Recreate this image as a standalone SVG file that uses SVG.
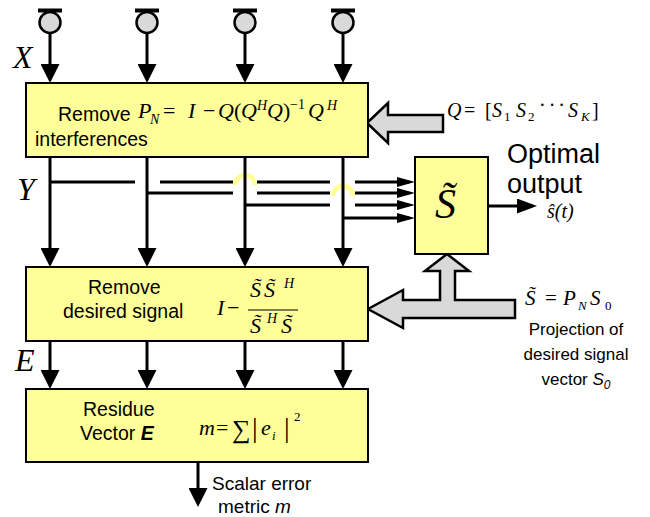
<svg xmlns="http://www.w3.org/2000/svg" width="650" height="517" viewBox="0 0 650 517">
<style>
.box{fill:#ffff99;stroke:#000;stroke-width:2}
.ln{stroke:#000;stroke-width:3;fill:none}
.gar{fill:#d9d9d9;stroke:#000;stroke-width:2.5;stroke-linejoin:miter}
.hop{fill:none;stroke:#ffff99;stroke-width:5}
.s{font-family:"Liberation Sans",Arial,sans-serif;fill:#000}
.m{font-family:"Liberation Serif","Times New Roman",serif;font-style:italic;fill:#000}
.u{font-style:normal}
.big{font-family:"Liberation Serif","Times New Roman",serif;font-style:italic;font-size:32px}
</style>
<defs>
<marker id="ah" markerUnits="userSpaceOnUse" markerWidth="19" markerHeight="19" refX="11" refY="9.5" orient="auto"><path d="M0,0 L19,9.5 L0,19 z" fill="#000"/></marker>
<marker id="ahs" markerUnits="userSpaceOnUse" markerWidth="18" markerHeight="10" refX="12" refY="5" orient="auto"><path d="M0,0 L18,5 L0,10 z" fill="#000"/></marker>
<marker id="aho" markerUnits="userSpaceOnUse" markerWidth="20" markerHeight="15" refX="13" refY="7.5" orient="auto"><path d="M0,0 L20,7.5 L0,15 z" fill="#000"/></marker>
</defs>

<g id="connectors">
<path class="hop" d="M235,185 A10,10 0 0 1 255,185"/>
<path class="hop" d="M333,196 A10,10 0 0 1 353,196"/>
<line class="ln" x1="50" y1="33" x2="50" y2="75" marker-end="url(#ah)"/>
<line class="ln" x1="147" y1="33" x2="147" y2="75" marker-end="url(#ah)"/>
<line class="ln" x1="245" y1="33" x2="245" y2="75" marker-end="url(#ah)"/>
<line class="ln" x1="343" y1="33" x2="343" y2="75" marker-end="url(#ah)"/>
<line class="ln" x1="50" y1="157" x2="50" y2="259" marker-end="url(#ah)"/>
<line class="ln" x1="147" y1="157" x2="147" y2="259" marker-end="url(#ah)"/>
<line class="ln" x1="245" y1="157" x2="245" y2="259" marker-end="url(#ah)"/>
<line class="ln" x1="343" y1="157" x2="343" y2="259" marker-end="url(#ah)"/>
<line class="ln" x1="50" y1="341" x2="50" y2="381" marker-end="url(#ah)"/>
<line class="ln" x1="147" y1="341" x2="147" y2="381" marker-end="url(#ah)"/>
<line class="ln" x1="245" y1="341" x2="245" y2="381" marker-end="url(#ah)"/>
<line class="ln" x1="343" y1="341" x2="343" y2="381" marker-end="url(#ah)"/>
<line class="ln" x1="198" y1="462" x2="198" y2="499" marker-end="url(#ah)"/>
<path class="ln" d="M50,182 H135 M160,182 H233 M257,182 H330"/>
<line class="ln" x1="355" y1="182" x2="409" y2="182" marker-end="url(#ahs)"/>
<path class="ln" d="M147,193 H233 M257,193 H330"/>
<line class="ln" x1="355" y1="193" x2="409" y2="193" marker-end="url(#ahs)"/>
<path class="ln" d="M245,205 H330"/>
<line class="ln" x1="355" y1="205" x2="409" y2="205" marker-end="url(#ahs)"/>
<line class="ln" x1="343" y1="218" x2="409" y2="218" marker-end="url(#ahs)"/>
<line class="ln" x1="488" y1="206" x2="530" y2="206" marker-end="url(#aho)"/>
<polygon id="q-arrow" class="gar" points="367,123 388,103 388,115 443,115 443,132 388,132 388,143"/>
<polygon id="s-arrow" class="gar" points="368,309 403,290 403,300 440,300 440,271 425,271 447,254 469,271 455,271 455,300 515,300 515,318 403,318 403,328"/>
</g>

<g id="in1"><circle cx="50" cy="22.5" r="10.5" fill="#d9d9d9" stroke="#000" stroke-width="2.5"/><line x1="38" y1="10.5" x2="62" y2="10.5" stroke="#000" stroke-width="4"/></g>
<g id="in2"><circle cx="147" cy="22.5" r="10.5" fill="#d9d9d9" stroke="#000" stroke-width="2.5"/><line x1="135" y1="10.5" x2="159" y2="10.5" stroke="#000" stroke-width="4"/></g>
<g id="in3"><circle cx="245" cy="22.5" r="10.5" fill="#d9d9d9" stroke="#000" stroke-width="2.5"/><line x1="233" y1="10.5" x2="257" y2="10.5" stroke="#000" stroke-width="4"/></g>
<g id="in4"><circle cx="343" cy="22.5" r="10.5" fill="#d9d9d9" stroke="#000" stroke-width="2.5"/><line x1="331" y1="10.5" x2="355" y2="10.5" stroke="#000" stroke-width="4"/></g>

<text class="big" x="13" y="68">X</text>
<text class="big" x="17" y="200">Y</text>
<text class="big" x="15" y="371">E</text>

<g id="box1">
<rect class="box" x="26" y="83" width="342" height="74"/>
<text class="s" x="58" y="121" font-size="19.5">Remove</text>
<text class="s" x="35" y="146" font-size="19.5">interferences</text>
<text class="m" font-size="22" y="118"><tspan x="138">P</tspan><tspan x="150" y="124" font-size="14">N</tspan><tspan class="u" x="163" y="118">=</tspan><tspan x="188">I</tspan><tspan class="u" x="203">−</tspan><tspan x="218">Q</tspan><tspan class="u" x="234">(</tspan><tspan x="241">Q</tspan><tspan x="257" y="110" font-size="14">H</tspan><tspan x="267" y="118">Q</tspan><tspan class="u" x="283">)</tspan><tspan class="u" x="290" y="109" font-size="14">−1</tspan><tspan x="308" y="118">Q</tspan><tspan x="327" y="110" font-size="14">H</tspan></text>
</g>

<text id="q-label" class="m" font-size="20" y="117"><tspan x="447">Q</tspan><tspan class="u" x="464">=</tspan><tspan class="u" x="485">[</tspan><tspan x="492">S</tspan><tspan class="u" x="504" y="121" font-size="13">1</tspan><tspan x="516" y="117">S</tspan><tspan class="u" x="528" y="121" font-size="13">2</tspan><tspan class="u" x="539" y="112" letter-spacing="3">···</tspan><tspan x="568" y="117">S</tspan><tspan x="581" y="121" font-size="13">K</tspan><tspan class="u" x="592" y="117">]</tspan></text>

<g id="sbox">
<rect class="box" x="415" y="157" width="73" height="97"/>
<text class="m" x="435" y="218" font-size="42">S&#x303;</text>
</g>

<text class="s" font-size="27" x="507" y="163">Optimal</text>
<text class="s" font-size="27" x="507" y="193">output</text>
<text class="m" x="547" y="217.5" font-size="20">ŝ(t)</text>

<g id="box2">
<rect class="box" x="26" y="267" width="342" height="74"/>
<text class="s" x="88" y="294" font-size="19.5">Remove</text>
<text class="s" x="63" y="318" font-size="19.5">desired signal</text>
<text class="m" font-size="22" y="315"><tspan x="217">I</tspan><tspan class="u" x="227">−</tspan></text>
<line x1="248" y1="310" x2="298" y2="310" stroke="#000" stroke-width="1.2"/>
<text class="m" font-size="22" y="297"><tspan x="250">S&#x303;</tspan><tspan x="264">S&#x303;</tspan><tspan x="284" y="288" font-size="14">H</tspan></text>
<text class="m" font-size="22" y="333"><tspan x="250">S&#x303;</tspan><tspan x="267" y="323" font-size="14">H</tspan><tspan x="281" y="333">S&#x303;</tspan></text>
</g>

<g id="s-label">
<text class="m" font-size="21" y="305"><tspan x="525">S&#x303;</tspan><tspan class="u" x="545">=</tspan><tspan x="563">P</tspan><tspan x="578" y="310" font-size="13">N</tspan><tspan x="590" y="305">S</tspan><tspan class="u" x="605" y="310" font-size="13">0</tspan></text>
<text class="s" font-size="17" text-anchor="middle" x="576" y="335">Projection of</text>
<text class="s" font-size="17" text-anchor="middle" x="576" y="360">desired signal</text>
<text class="s" font-size="17" text-anchor="middle" x="576" y="385">vector <tspan font-style="italic">S</tspan><tspan font-style="italic" font-size="12" dy="4">0</tspan></text>
</g>

<g id="box3">
<rect class="box" x="26" y="389" width="342" height="73"/>
<text class="s" x="83" y="416" font-size="19.5">Residue</text>
<text class="s" x="80" y="440" font-size="19.5">Vector <tspan font-weight="bold" font-style="italic">E</tspan></text>
<text class="m" font-size="22" y="435"><tspan x="199">m</tspan><tspan class="u" x="216">=</tspan><tspan class="u" x="232" y="438" font-size="26">∑</tspan><tspan class="u" x="252" y="437" font-size="28">|</tspan><tspan x="261" y="435">e</tspan><tspan x="272" y="440" font-size="13">i</tspan><tspan class="u" x="284" y="437" font-size="28">|</tspan><tspan class="u" x="294" y="421" font-size="13">2</tspan></text>
</g>

<text class="s" x="212" y="490" font-size="19">Scalar error</text>
<text class="s" x="218" y="513" font-size="19">metric <tspan font-style="italic">m</tspan></text>
</svg>
